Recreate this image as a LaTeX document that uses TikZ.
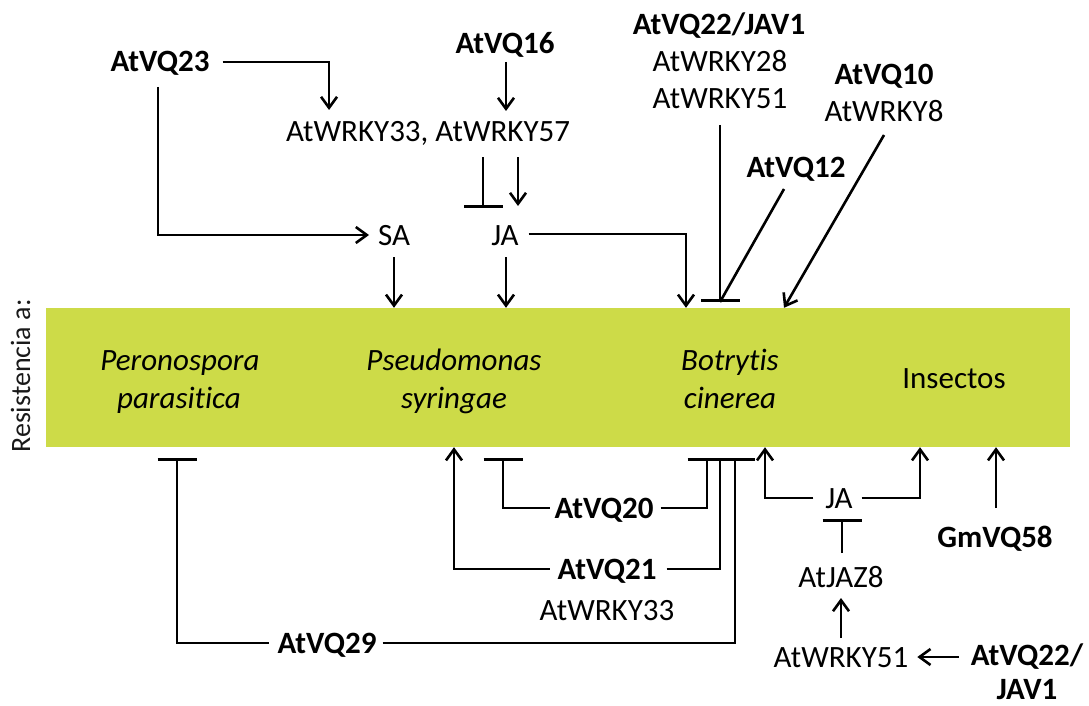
\documentclass[tikz,border=0pt]{standalone}
\usepackage{fontspec}
\setmainfont{Carlito}[Ligatures=NoCommon]
\usetikzlibrary{arrows.meta,calc}
\definecolor{bandgreen}{RGB}{205,219,72}

\begin{document}
\begin{tikzpicture}[x=1pt,y=-1pt,
  lbl/.style={inner sep=0pt, outer sep=0pt, text height=20pt, text depth=0pt,
              font=\fontsize{31}{37}\selectfont},
  vq/.style={lbl, font=\fontsize{31}{37}\selectfont\bfseries},
  host/.style={lbl, font=\fontsize{31}{37}\selectfont\itshape},
  link/.style={line width=2.6pt},
  act/.style={link, -{Straight Barb[length=11pt,width=16pt]}},
  inh/.style={link, -{Bar[width=39pt, line width=2.6pt]}},
]
\useasboundingbox (0,0) rectangle (1089,706);

% resistance band
\node[fill=bandgreen, inner sep=0pt, minimum width=1024pt, minimum height=139pt] (band) at (558,377.5) {};
\node[lbl, font=\fontsize{28}{34}\selectfont, text height=18pt, rotate=90, text=black!90] (res) at (21,376) {Resistencia a:};

\node[host] (pero1) at (180,360) {Peronospora};
\node[host] (pero2) at (179,398) {parasitica};
\node[host] (pseu1) at (454,360) {Pseudomonas};
\node[host] (pseu2) at (454,398) {syringae};
\node[host] (botr1) at (730,360) {Botrytis};
\node[host] (botr2) at (730,398) {cinerea};
\node[lbl]  (insec) at (954,378) {Insectos};

% regulators above the band
\node[vq]  (vq23) at (160,62) {AtVQ23};
\node[vq]  (vq16) at (505,44) {AtVQ16};
\node[lbl] (wrky) at (428,132) {AtWRKY33, AtWRKY57};
\node[lbl] (sa)   at (394,235) {SA};
\node[lbl] (ja)   at (505,235) {JA};
\node[vq]  (vq22a) at (719,25) {AtVQ22/JAV1};
\node[lbl] (vq22b) at (720,62) {AtWRKY28};
\node[lbl] (vq22c) at (720,99) {AtWRKY51};
\node[vq]  (vq12) at (796,167) {AtVQ12};
\node[vq]  (vq10a) at (884,75) {AtVQ10};
\node[lbl] (vq10b) at (884,112) {AtWRKY8};

% regulators below the band
\node[vq]  (vq29) at (327,643) {AtVQ29};
\node[vq]  (vq20) at (604,508) {AtVQ20};
\node[vq]  (vq21) at (607,569) {AtVQ21};
\node[lbl] (vq21w) at (607,610) {AtWRKY33};
\node[lbl] (jab)  at (839,498) {JA};
\node[lbl] (jaz)  at (841,577) {AtJAZ8};
\node[lbl] (wrky51) at (841,657) {AtWRKY51};
\node[vq]  (vq22d) at (1027,655) {AtVQ22/};
\node[vq]  (vq22e) at (1027,689) {JAV1};
\node[vq]  (gm)   at (995,537) {GmVQ58};

% end points on the band edges
\coordinate (pjaT)  at (686,0 |- band.north);
\coordinate (pinhT) at (720,302);
\coordinate (pvqT)  at (784,0 |- band.north);
\coordinate (bPer)  at (177,458);
\coordinate (bPs)   at (503,458);
\coordinate (aPs)   at (454,0 |- band.south);
\coordinate (bB1)   at (707,458);
\coordinate (bB2)   at (720,458);
\coordinate (bB3)   at (735,458);
\coordinate (aB)    at (765,0 |- band.south);
\coordinate (aI1)   at (920,0 |- band.south);
\coordinate (aI2)   at (996,0 |- band.south);

% connectors above the band
\draw[act] ($(vq23.east)+(13,0)$) -| ($(wrky.north west)+(43,-12)$);
\draw[act] ($(vq23.south)+(-2,15)$) |- ($(sa.west)+(-9,0)$);
\draw[act] ($(vq16.south)+(1,8)$) -- ($(wrky.north -| vq16.south)+(1,-11)$);
\draw[inh] ($(wrky.south -| ja.north)+(-22,15)$) -- ($(ja.north)+(-22,-17)$);
\draw[act] ($(wrky.south -| ja.north)+(13,15)$) -- ($(ja.north)+(13,-19)$);
\draw[act] ($(sa.south)+(0,12)$) -- (sa.south |- band.north);
\draw[act] ($(ja.south)+(1,12)$) -- ($(ja.south |- band.north)+(1,0)$);
\draw[act] ($(ja.east)+(10,-1)$) -| (pjaT);
\draw[inh] ($(vq22c.south)+(0,16)$) -- (pinhT);
\draw[link] ($(vq12.south)+(-12,12)$) -- (pinhT);
\draw[act] ($(vq10b.south)+(0,13)$) -- (pvqT);

% connectors below the band
\draw[inh] ($(vq29.west)+(-9,0)$) -| (bPer);
\draw[inh] ($(vq29.east)+(6,0)$) -| (bB3);
\draw[inh] ($(vq20.west)+(-5,0)$) -| (bPs);
\draw[inh] ($(vq20.east)+(7,0)$) -| (bB1);
\draw[act] ($(vq21.west)+(-8,0)$) -| (aPs);
\draw[inh] ($(vq21.east)+(10,0)$) -| (bB2);
\draw[act] ($(jab.west)+(-12,0)$) -| (aB);
\draw[act] ($(jab.east)+(9,0)$) -| (aI1);
\draw[inh] ($(jaz.north)+(1,-14)$) -- ($(jab.south)+(3,11)$);
\draw[act] ($(wrky51.north)+(0,-9)$) -- ($(jaz.south)+(0,11)$);
\draw[act] ($(vq22d.west)+(-12,2)$) -- ($(wrky51.east)+(9,0)$);
\draw[act] ($(gm.north)+(1,-19)$) -- (aI2);
\end{tikzpicture}
\end{document}
